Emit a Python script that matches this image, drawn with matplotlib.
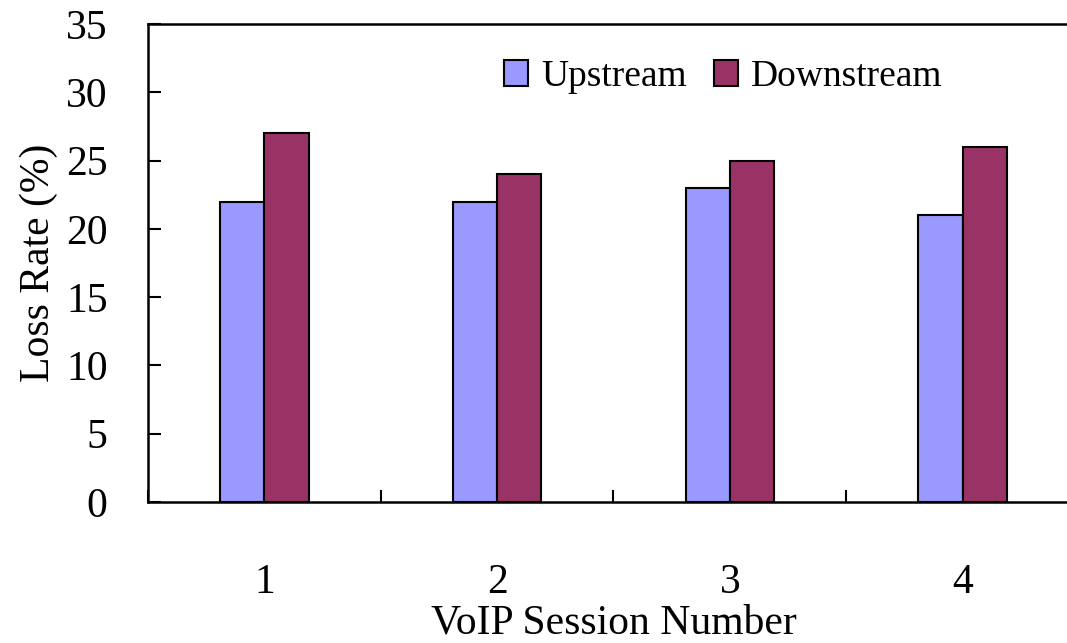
import matplotlib
matplotlib.use('Agg')
import matplotlib.pyplot as plt
import numpy as np

sessions = ['1', '2', '3', '4']
upstream = [22, 22, 23, 21]
downstream = [27, 24, 25, 26]

plt.rcParams['font.family'] = ['Liberation Serif', 'DejaVu Serif']

fig = plt.figure(figsize=(10.67, 6.43), dpi=100)
ax = fig.add_axes([0.1387, 0.2193, 0.8725, 0.7434])  # right side runs past the image like the original

x = np.arange(1, len(sessions) + 1)
w = 0.19
ax.bar(x - w / 2, upstream, w, color='#9999FF', edgecolor='black', linewidth=1.5, label='Upstream')
ax.bar(x + w / 2, downstream, w, color='#993366', edgecolor='black', linewidth=1.5, label='Downstream')

ax.set_xlim(0.5, len(sessions) + 0.5)
ax.set_ylim(0, 35)
ax.set_yticks(np.arange(0, 36, 5))

# boundary ticks without labels, category labels on minor ticks
ax.set_xticks(np.arange(0.5, len(sessions) + 1, 1.0))
ax.set_xticklabels([])
ax.set_xticks(x, minor=True)
ax.set_xticklabels(sessions, minor=True)
ax.tick_params(axis='x', which='major', direction='in', length=9, width=1.5)
ax.tick_params(axis='x', which='minor', length=0, pad=44, labelsize=30)
ax.tick_params(axis='y', direction='in', length=9, width=1.5, pad=29, labelsize=30)

for s in ax.spines.values():
    s.set_linewidth(1.8)

ax.set_xlabel('VoIP Session Number', fontsize=30, labelpad=2)
ax.set_ylabel('Loss Rate (%)', fontsize=30, labelpad=6)

ax.legend(loc='center', bbox_to_anchor=(0.678, 0.880), bbox_transform=fig.transFigure,
          ncol=2, frameon=False, fontsize=27, handlelength=0.65, handleheight=0.7,
          handletextpad=0.35, columnspacing=0.7)

fig.savefig('out.png', dpi=100)
